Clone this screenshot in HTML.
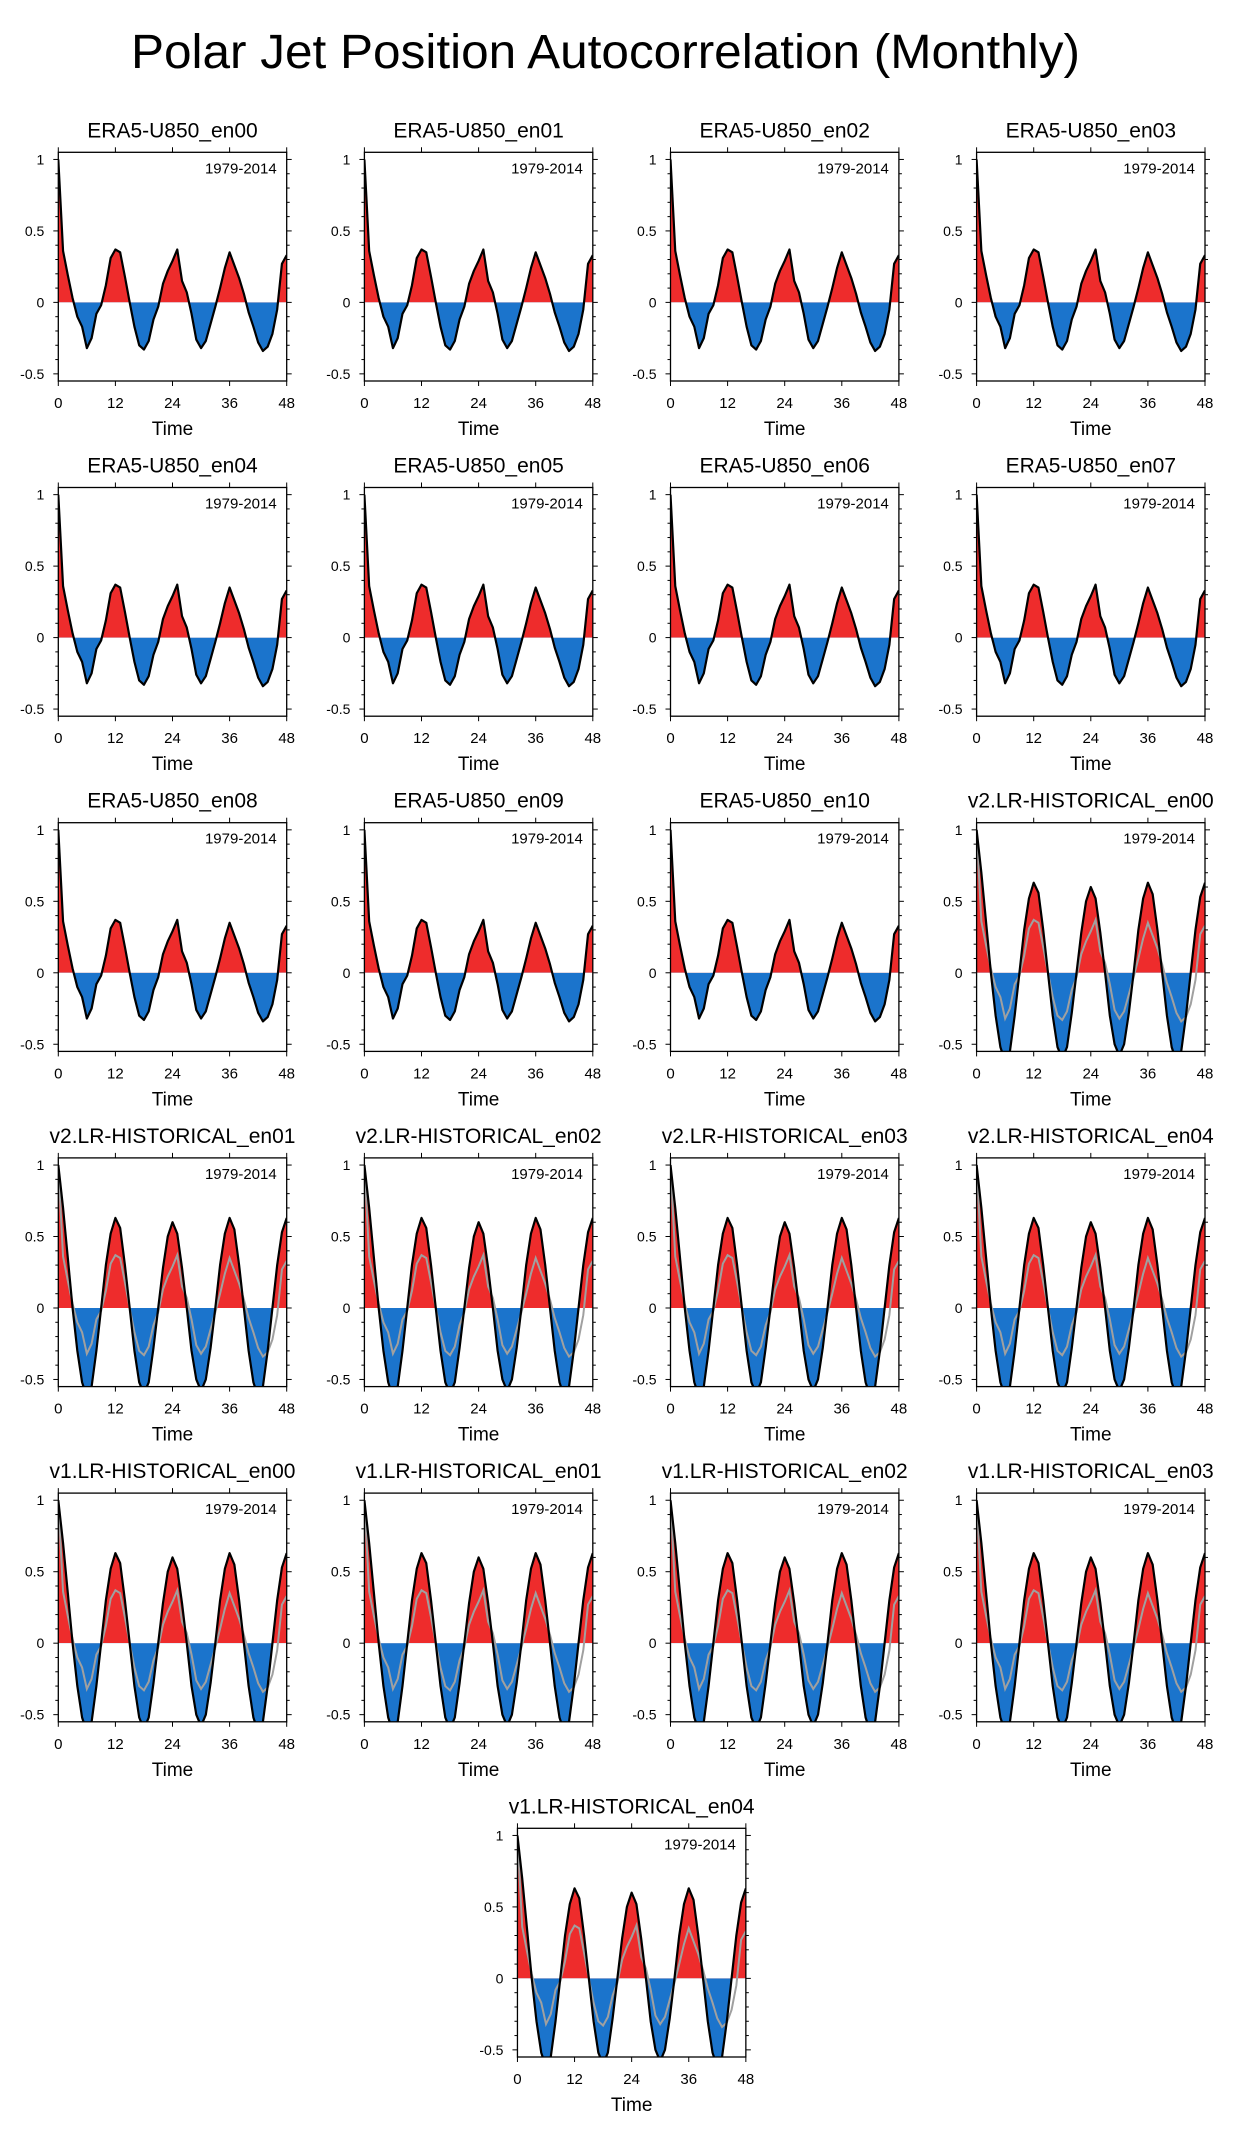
<!DOCTYPE html>
<html><head><meta charset="utf-8">
<style>
html,body{margin:0;padding:0;background:#fff;}
svg{display:block;font-family:"Liberation Sans",Arial,sans-serif;}
</style></head>
<body>
<svg id="fig" width="1235" height="2144" viewBox="0 0 1235 2144" xmlns="http://www.w3.org/2000/svg">
<rect width="1235" height="2144" fill="#fff"/>
<text x="131" y="68" font-size="48" textLength="949" lengthAdjust="spacingAndGlyphs">Polar Jet Position Autocorrelation (Monthly)</text>
</svg>
<script>
const panelNames = ["ERA5-U850_en00","ERA5-U850_en01","ERA5-U850_en02","ERA5-U850_en03",
"ERA5-U850_en04","ERA5-U850_en05","ERA5-U850_en06","ERA5-U850_en07",
"ERA5-U850_en08","ERA5-U850_en09","ERA5-U850_en10","v2.LR-HISTORICAL_en00",
"v2.LR-HISTORICAL_en01","v2.LR-HISTORICAL_en02","v2.LR-HISTORICAL_en03","v2.LR-HISTORICAL_en04",
"v1.LR-HISTORICAL_en00","v1.LR-HISTORICAL_en01","v1.LR-HISTORICAL_en02","v1.LR-HISTORICAL_en03",
"v1.LR-HISTORICAL_en04"];
const eraValues = [1.0,0.36,0.19,0.03,-0.1,-0.17,-0.32,-0.25,-0.08,-0.02,0.12,0.31,0.37,0.35,0.18,0.0,-0.17,-0.3,-0.33,-0.27,-0.12,-0.03,0.13,0.22,0.29,0.37,0.15,0.07,-0.08,-0.26,-0.32,-0.27,-0.15,-0.03,0.1,0.24,0.35,0.26,0.17,0.06,-0.07,-0.17,-0.28,-0.34,-0.31,-0.22,-0.05,0.27,0.33];
const modelValues = [1.0,0.7,0.35,0.0,-0.3,-0.52,-0.62,-0.55,-0.3,0.0,0.3,0.52,0.63,0.56,0.3,0.0,-0.3,-0.52,-0.6,-0.52,-0.28,0.0,0.28,0.5,0.6,0.52,0.28,0.0,-0.3,-0.5,-0.58,-0.5,-0.28,0.0,0.3,0.52,0.63,0.55,0.3,0.0,-0.3,-0.52,-0.62,-0.55,-0.3,0.0,0.3,0.53,0.63];
const xTicks = [0,12,24,36,48];
const yTicks = [-0.5,0,0.5,1];
const yTickLabels = ["-0.5","0","0.5","1"];
const periodLabel = "1979-2014";

const NS="http://www.w3.org/2000/svg";
const svg=document.getElementById('fig');
function mk(tag,attrs,parent){const e=document.createElementNS(NS,tag);for(const k in attrs)e.setAttribute(k,attrs[k]);(parent||svg).appendChild(e);return e;}
const W=228.4,H=228.7,X0=58.3,Y0=152.3,DX=306.1,DY=335.2;
const yMin=-0.55,yMax=1.05;

panelNames.forEach((name,i)=>{
  let r=Math.floor(i/4),c=i%4;
  let left=X0+c*DX, top=Y0+r*DY;
  if(i===20){left=X0+1.5*DX;}
  const isEra=name.startsWith("ERA5");
  const vals=isEra?eraValues:modelValues;
  const sx=v=>left+(v-0)/48*W;
  const sy=v=>top+(yMax-v)/(yMax-yMin)*H;
  const g=mk('g',{});
  
  
  const t=mk('text',{x:left+W/2,y:top-15,'font-size':21,'text-anchor':'middle'},g);
  
  
  t.textContent=name;
  const cid='c'+i;
  const defs=mk('defs',{},g);
  const y0=sy(0);
  const cpA=mk('clipPath',{id:cid+'a'},defs);mk('rect',{x:left,y:top,width:W,height:y0-top},cpA);
  const cpB=mk('clipPath',{id:cid+'b'},defs);mk('rect',{x:left,y:y0,width:W,height:top+H-y0},cpB);
  const cpP=mk('clipPath',{id:cid+'p'},defs);mk('rect',{x:left,y:top,width:W,height:H},cpP);
  let pts=vals.map((v,k)=>sx(k).toFixed(2)+','+sy(v).toFixed(2));
  const area='M'+sx(0)+','+y0+' L'+pts.join(' L')+' L'+sx(vals.length-1)+','+y0+' Z';
  const pa=mk('path',{d:area,fill:'#ee2c2c','clip-path':'url(#'+cid+'a)'},g);
  
  
  const pb=mk('path',{d:area,fill:'#1b74cc','clip-path':'url(#'+cid+'b)'},g);
  
  
  const gc=mk('g',{'clip-path':'url(#'+cid+'p)'},g);
  if(!isEra){
    const ep=eraValues.map((v,k)=>sx(k).toFixed(2)+','+sy(v).toFixed(2));
    const gl=mk('polyline',{points:ep.join(' '),fill:'none',stroke:'#a0a0a0','stroke-width':2},gc);
    
    
  }
  const ln=mk('polyline',{points:pts.join(' '),fill:'none',stroke:'#000','stroke-width':2.2,'stroke-linejoin':'round'},gc);
  
  
  const fr=mk('rect',{x:left,y:top,width:W,height:H,fill:'none',stroke:'#000','stroke-width':1.3},g);
  
  
  for(let k=-5;k<=10;k++){
    const v=k/10,yy=sy(v);
    const major=(k%5===0);
    const L=major?5:3;
    mk('line',{x1:left-L,x2:left,y1:yy,y2:yy,stroke:'#000','stroke-width':1},g);
    mk('line',{x1:left+W,x2:left+W+L,y1:yy,y2:yy,stroke:'#000','stroke-width':1},g);
  }
  yTicks.forEach((v,k)=>{
    const tl=mk('text',{x:left-14,y:sy(v)+5,'font-size':14,'text-anchor':'end'},g);
    
    
    tl.textContent=yTickLabels[k];
  });
  xTicks.forEach(v=>{
    const xx=sx(v);
    mk('line',{x1:xx,x2:xx,y1:top+H,y2:top+H+5,stroke:'#000','stroke-width':1},g);
    mk('line',{x1:xx,x2:xx,y1:top-5,y2:top,stroke:'#000','stroke-width':1},g);
    const tl=mk('text',{x:xx,y:top+H+27,'font-size':15,'text-anchor':'middle'},g);
    
    
    tl.textContent=String(v);
  });
  const xt=mk('text',{x:left+W/2,y:top+H+54,'font-size':19,'text-anchor':'middle'},g);
  
  
  xt.textContent='Time';
  const pl=mk('text',{x:left+W-10,y:top+21,'font-size':15,'text-anchor':'end'},g);
  
  
  pl.textContent=periodLabel;
});
</script>
</body></html>
